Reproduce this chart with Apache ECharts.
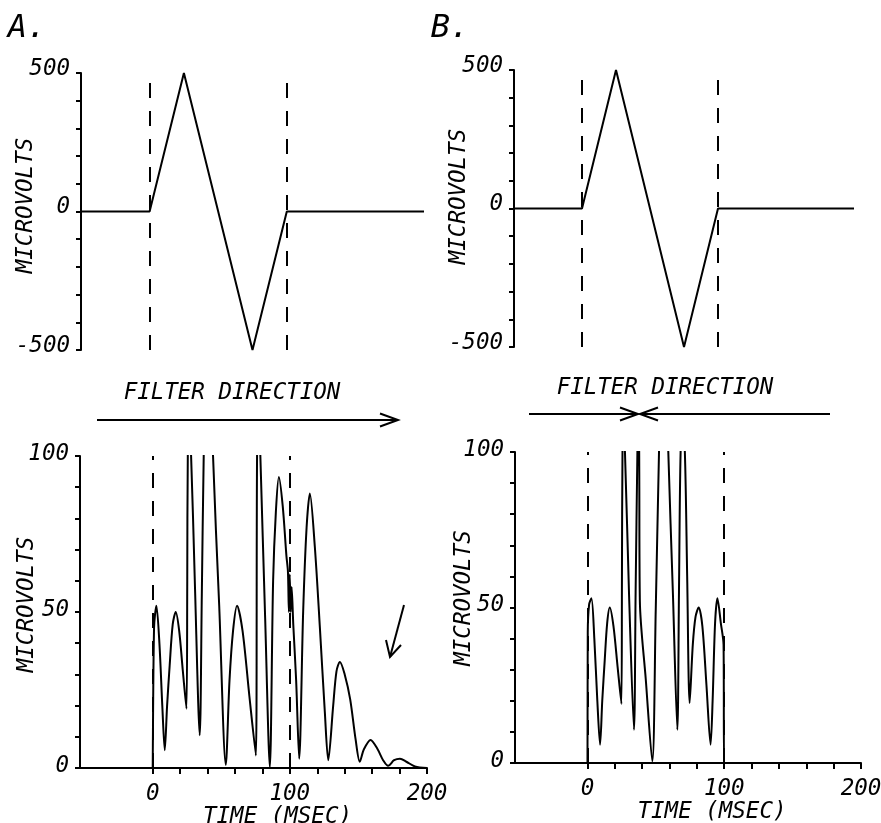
<!DOCTYPE html>
<html>
<head>
<meta charset="utf-8">
<title>Filter direction</title>
<script src="https://cdn.jsdelivr.net/npm/echarts@6.0.0/dist/echarts.min.js"></script>
<style>
  html, body { margin: 0; padding: 0; background: #fff; }
  #chart { width: 881px; height: 823px; }
</style>
</head>
<body>
<div id="chart"></div>
<script>
// input pulse (top panels), time in msec, microvolts
const pulseT = [-50, 0, 25, 75, 100, 200];
const pulseV = [0, 0, 500, -500, 0, 0];

// A: forward filtered output
const filtAT = [-50, 0, 0.3, 1.0, 2.7, 4.9, 7.0, 8.8,
  10.5, 12.4, 14.6, 16.8, 19.3, 22.0, 24.6,
  25.2, 25.6, 26.7, 28.0, 30.7, 34.3,
  35.8, 37.2, 40.5, 44.0, 48.5, 53.3,
  56.0, 58.6, 61.5, 65.5, 70.5, 75.2,
  76.1, 77.3, 78.5, 82.0, 85.4,
  87.8, 89.8, 92.0, 94.8, 97.5, 98.6, 99.3, 99.9, 100.6, 101.3, 102.5, 104.6, 106.8,
  109.7, 112.2, 114.6, 118.2, 121.9, 125.5, 128.0,
  131.6, 134.0, 136.5, 140.0, 144.0, 148.0, 151.0,
  154.0, 158.9, 164.0, 168.0, 171.7,
  176.0, 180.3, 185.0, 191.2, 200];
const filtAV = [0, 0, 0, 45, 52, 40, 20, 5.7,
  20, 33, 46, 50, 44, 31, 19,
  60, 100, 106, 100, 60, 10.5,
  55, 100, 165, 100, 52, 1,
  28, 44, 52, 44, 23, 4,
  100, 118, 100, 48, 0.3,
  60, 82, 93.3, 84, 68, 63, 50, 62, 50, 58, 46, 28, 3,
  50, 77, 88, 71, 45, 18, 2.5,
  20, 31, 34, 30, 22, 9, 2,
  6, 9, 6, 2.5, 0.7,
  2.5, 3, 2, 0.5, 0];

// B: forward + backward filtered output
const filtBT = [-50, 0, 0.2, 1.2, 2.9, 5.0, 7.2, 9.2,
  10.8, 12.6, 14.4, 16.3, 19.0, 22.0, 24.8,
  25.2, 25.6, 26.3, 27.4, 30.4, 34.0,
  35.2, 36.5, 37.2, 37.8, 38.3, 42.6, 47.4,
  49.9, 52.3, 55.6, 59.1, 62.5, 65.7,
  66.9, 68.1, 69.6, 71.2, 72.9, 74.7,
  77.0, 79.0, 81.3, 84.0, 87.0, 90.0,
  91.5, 93.3, 95.0, 97.5, 99.5, 99.9, 200];
const filtBV = [0, 0, 42, 51, 53, 40, 20, 5.9,
  20, 33, 45, 50, 44, 31, 19,
  60, 100, 106, 100, 54, 10.7,
  55, 100, 115, 100, 52, 27, 0.5,
  49, 100, 160, 100, 54, 10.7,
  55, 100, 106, 100, 60, 19.3,
  38, 47, 50, 44, 25, 5.9,
  20, 45, 53, 45, 38, 0, 0];

const topLabels = [-500, 0, 500];
const botLabels = [0, 50, 100];
const timeLabels = [0, 100, 200];
const timeTicks = [0, 20, 40, 60, 80, 100, 120, 140, 160, 180, 200];
const markers = [0, 100];

const FONT = '"DejaVu Sans Mono", monospace';
const SIZE = 22.5;
const zip = (t, v) => t.map((x, i) => [x, v[i]]);

const chart = echarts.init(document.getElementById('chart'));

const grids = [
  { left: 81, top: 73, width: 343, height: 277 },   // A top
  { left: 80, top: 456, width: 347, height: 312 },  // A bottom
  { left: 514, top: 70, width: 340, height: 277 },  // B top
  { left: 515, top: 452, width: 346, height: 311 }  // B bottom
];

const labelStyle = { fontFamily: FONT, fontStyle: 'italic', fontSize: SIZE, color: '#000' };

function yAxis(i, isTop, gap, namePad) {
  return {
    gridIndex: i,
    type: 'value',
    min: isTop ? -500 : 0,
    max: isTop ? 500 : 100,
    interval: isTop ? 100 : 10,
    axisLine: { show: true, onZero: false, lineStyle: { color: '#000', width: 2 } },
    axisTick: { show: true, length: 5, lineStyle: { color: '#000', width: 2 } },
    // labels sit a little above their tick, as in the plot
    axisLabel: Object.assign({
      customValues: isTop ? topLabels : botLabels,
      margin: 11,
      verticalAlign: 'bottom',
      lineHeight: isTop ? 8 : 4
    }, labelStyle),
    splitLine: { show: false },
    name: 'MICROVOLTS',
    nameLocation: 'middle',
    nameGap: gap,
    nameMoveOverlap: false,
    nameTextStyle: Object.assign({ padding: [0, 0, 0, namePad] }, labelStyle)
  };
}

function xAxis(i, isTop) {
  if (isTop) {
    return { gridIndex: i, type: 'value', min: -50, max: 200, show: false };
  }
  return {
    gridIndex: i,
    type: 'value',
    min: -53,
    max: 200,
    axisLine: { show: true, onZero: false, lineStyle: { color: '#000', width: 2 } },
    axisTick: { show: true, customValues: timeTicks, length: 6, lineStyle: { color: '#000', width: 2 } },
    axisLabel: Object.assign({ customValues: timeLabels, margin: 15 }, labelStyle),
    splitLine: { show: false },
    name: 'TIME (MSEC)',
    nameLocation: 'middle',
    nameGap: 38,
    nameMoveOverlap: false,
    nameTextStyle: Object.assign({ padding: [0, 0, 0, 48] }, labelStyle)
  };
}

function series(i, data, smooth) {
  return {
    type: 'line',
    xAxisIndex: i,
    yAxisIndex: i,
    data: data,
    smooth: smooth,
    showSymbol: false,
    clip: true,
    lineStyle: { color: '#000', width: 2 },
    markLine: {
      silent: true,
      symbol: ['none', 'none'],
      label: { show: false },
      lineStyle: { color: '#000', width: 2, type: [15, 13] },
      data: markers.map(m => ({ xAxis: m }))
    }
  };
}

function arrowHead(x, y, dir) {
  // open "V" arrow head, dir = 1 right, -1 left
  return {
    type: 'polyline',
    shape: { points: [[x - dir * 18, y - 6.5], [x, y], [x - dir * 18, y + 6.5]] },
    style: { stroke: '#000', lineWidth: 2, fill: null }
  };
}

function text(str, x, y, size) {
  return {
    type: 'text',
    style: {
      text: str, x: x, y: y,
      font: 'italic ' + size + 'px ' + FONT,
      fill: '#000', align: 'center', verticalAlign: 'middle'
    }
  };
}

const option = {
  backgroundColor: '#fff',
  animation: false,
  grid: grids.map(g => Object.assign({ outerBoundsMode: 'none' }, g)),
  xAxis: [xAxis(0, true), xAxis(1, false), xAxis(2, true), xAxis(3, false)],
  yAxis: [yAxis(0, true, 43, 12), yAxis(1, false, 41, 15), yAxis(2, true, 43, 24), yAxis(3, false, 39, 19)],
  series: [
    series(0, zip(pulseT, pulseV), false),
    series(1, zip(filtAT, filtAV), 0.3),
    series(2, zip(pulseT, pulseV), false),
    series(3, zip(filtBT, filtBV), 0.3)
  ],
  graphic: [
    text('A.', 27, 29, 32),
    text('B.', 450, 29, 32),
    text('FILTER DIRECTION', 232, 393, SIZE),
    text('FILTER DIRECTION', 665, 388, SIZE),
    // A: forward only
    { type: 'line', shape: { x1: 97, y1: 420, x2: 398, y2: 420 }, style: { stroke: '#000', lineWidth: 2 } },
    arrowHead(398, 420, 1),
    // B: forward and backward
    { type: 'line', shape: { x1: 529, y1: 414, x2: 638, y2: 414 }, style: { stroke: '#000', lineWidth: 2 } },
    arrowHead(638, 414, 1),
    { type: 'line', shape: { x1: 830, y1: 414, x2: 640, y2: 414 }, style: { stroke: '#000', lineWidth: 2 } },
    arrowHead(640, 414, -1),
    // small arrow pointing at the tail in A
    { type: 'line', shape: { x1: 404, y1: 605, x2: 390, y2: 657 }, style: { stroke: '#000', lineWidth: 2 } },
    { type: 'polyline', shape: { points: [[386, 640], [390, 657], [401, 645]] }, style: { stroke: '#000', lineWidth: 2, fill: null } }
  ]
};

chart.setOption(option);
</script>
</body>
</html>
